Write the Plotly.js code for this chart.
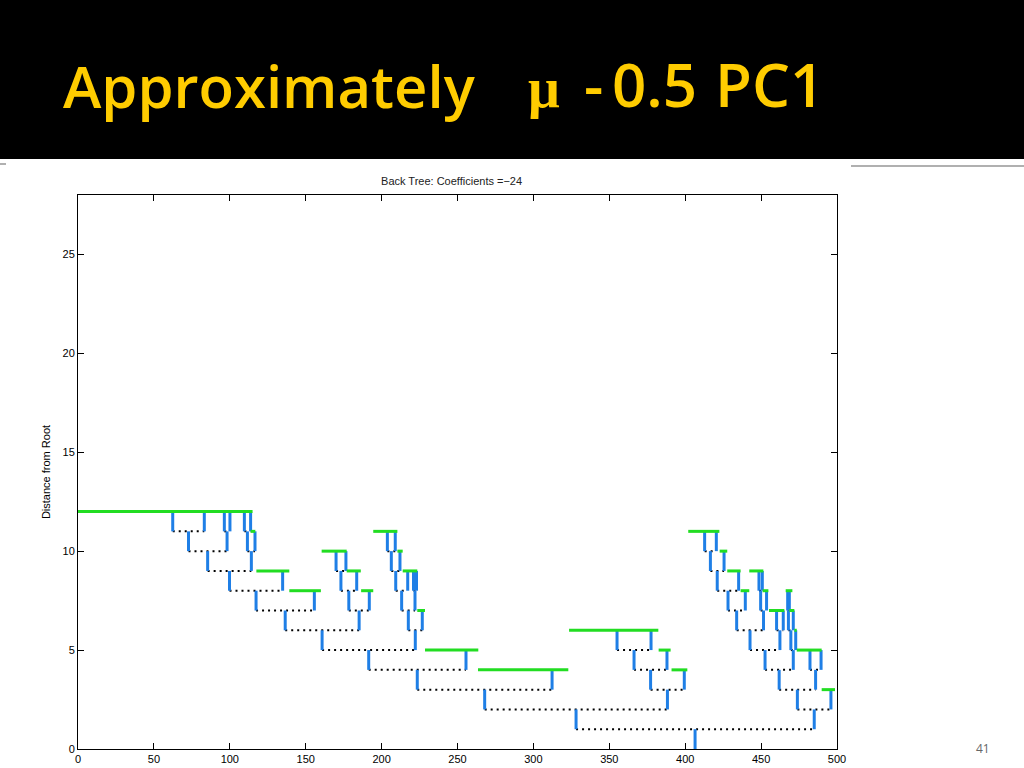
<!DOCTYPE html>
<html>
<head>
<meta charset="utf-8">
<script src="https://cdn.plot.ly/plotly-3.0.1.min.js"></script>
<style>
html,body{margin:0;padding:0;background:#fff;}
#chart{width:1024px;height:768px;}
</style>
</head>
<body>
<div id="chart"></div>
<script>
// ---- Data (x position, tree level) ----
// Blue branches: vertical from level (top-1) to level top at x
const branchX = [
  62.4, 83.2, 96.4, 100.1, 109.6, 113.7,
  72.8, 98.2, 111.6, 116.6, 203.8, 209.0, 412.8, 420.5,
  85.4, 114.2, 170.0, 176.5, 206.4, 212.1, 416.6, 425.6,
  99.8, 134.8, 173.2, 183.6, 209.3, 217.2, 221.0, 223.0, 421.1, 435.2, 448.6, 450.8,
  117.3, 155.7, 178.4, 191.9, 213.2, 222.0, 428.2, 439.6, 449.7, 453.6, 467.5, 468.6,
  136.5, 185.2, 217.6, 226.8, 433.9, 451.6, 460.2, 464.6, 468.0, 471.2,
  160.8, 222.2, 355.1, 377.5, 442.7, 462.4, 469.6, 472.8,
  191.5, 255.6, 366.3, 388.0, 452.6, 471.2, 482.2, 489.5,
  223.5, 312.3, 377.2, 399.4, 461.9, 485.9,
  267.9, 388.3, 473.9, 496.0,
  328.1, 485.0,
  406.5
];
const branchTop = [
  12, 12, 12, 12, 12, 12,
  11, 11, 11, 11, 11, 11, 11, 11,
  10, 10, 10, 10, 10, 10, 10, 10,
  9, 9, 9, 9, 9, 9, 9, 9, 9, 9, 9, 9,
  8, 8, 8, 8, 8, 8, 8, 8, 8, 8, 8, 8,
  7, 7, 7, 7, 7, 7, 7, 7, 7, 7,
  6, 6, 6, 6, 6, 6, 6, 6,
  5, 5, 5, 5, 5, 5, 5, 5,
  4, 4, 4, 4, 4, 4,
  3, 3, 3, 3,
  2, 2,
  1
];

// Black dotted joins between sibling branches
const joinStart = [
  62.4, 96.4, 109.6,
  72.8, 111.6, 203.8, 412.8,
  85.4, 170.0, 206.4, 416.6,
  99.8, 173.2, 209.3, 221.0, 421.1, 448.6,
  117.3, 178.4, 213.2, 428.2, 449.7, 467.5,
  136.5, 217.6, 433.9, 460.2, 468.0,
  160.8, 355.1, 442.7, 469.6,
  191.5, 366.3, 452.6, 482.2,
  223.5, 377.2, 461.9,
  267.9, 473.9,
  328.1
];
const joinEnd = [
  83.2, 100.1, 113.7,
  98.2, 116.6, 209.0, 420.5,
  114.2, 176.5, 212.1, 425.6,
  134.8, 183.6, 217.2, 223.0, 435.2, 450.8,
  155.7, 191.9, 222.0, 439.6, 453.6, 468.6,
  185.2, 226.8, 451.6, 464.6, 471.2,
  222.2, 377.5, 462.4, 472.8,
  255.6, 388.0, 471.2, 489.5,
  312.3, 399.4, 485.9,
  388.3, 496.0,
  485.0
];
const joinLevel = [
  11, 11, 11,
  10, 10, 10, 10,
  9, 9, 9, 9,
  8, 8, 8, 8, 8, 8,
  7, 7, 7, 7, 7, 7,
  6, 6, 6, 6, 6,
  5, 5, 5, 5,
  4, 4, 4, 4,
  3, 3, 3,
  2, 2,
  1
];

// Green leaf segments
const leafStart = [0, 113.7, 117.5, 139.2, 160.5, 177.0, 186.5, 194.5, 210.4, 213.9, 223.5, 228.6, 263.5, 323.5,
  382.5, 391.0, 402.0, 422.7, 427.7, 436.5, 442.2, 451.0, 455.2, 466.2, 468.6, 471.9, 473.5, 489.9];
const leafEnd = [115.0, 116.8, 139.2, 160.0, 177.0, 186.3, 194.5, 210.4, 213.9, 223.5, 228.6, 263.7, 323.0, 382.3,
  390.4, 401.4, 422.5, 427.7, 436.5, 442.2, 451.5, 454.8, 465.3, 470.6, 471.9, 473.5, 489.9, 498.7];
const leafLevel = [12, 11, 9, 8, 10, 9, 8, 11, 10, 9, 7, 5, 4, 6,
  5, 4, 11, 10, 9, 8, 9, 8, 7, 8, 7, 6, 5, 3];

const xTicks = [0, 50, 100, 150, 200, 250, 300, 350, 400, 450, 500];
const yTicks = [0, 5, 10, 15, 20, 25];

// ---- Build traces ----
function segs(x0s, x1s, y0s, y1s) {
  const x = [], y = [];
  for (let i = 0; i < x0s.length; i++) {
    x.push(x0s[i], x1s[i], null);
    y.push(y0s[i], y1s[i], null);
  }
  return {x, y};
}
const bj = segs(joinStart, joinEnd, joinLevel, joinLevel);
const bb = segs(branchX, branchX, branchTop.map(v => v - 1), branchTop);
const bl = segs(leafStart, leafEnd, leafLevel, leafLevel);

const traces = [
  {type: 'scatter', mode: 'lines', x: bj.x, y: bj.y, hoverinfo: 'skip',
   line: {color: '#000000', width: 2, dash: '2px,4px'}, showlegend: false},
  {type: 'scatter', mode: 'lines', x: bb.x, y: bb.y, hoverinfo: 'skip',
   line: {color: '#1f7fe6', width: 3}, showlegend: false},
  {type: 'scatter', mode: 'lines', x: bl.x, y: bl.y, hoverinfo: 'skip',
   line: {color: '#22dd22', width: 3}, showlegend: false}
];

// pixel -> paper helpers for slide decorations
const L = 78, R = 187, T = 195, B = 19, W = 1024, H = 768;
const pw = W - L - R, ph = H - T - B;
const px = v => (v - L) / pw;
const py = v => (H - B - v) / ph;

const headFont = {family: 'Open Sans, sans-serif', size: 60, color: '#ffcc00', weight: 600};
const headFontA = {family: 'Open Sans, sans-serif', size: 58, color: '#ffcc00', weight: 600};

const layout = {
  width: W, height: H,
  margin: {l: L, r: R, t: T, b: B, pad: 0},
  paper_bgcolor: '#ffffff', plot_bgcolor: '#ffffff',
  showlegend: false,
  title: {text: 'Back Tree: Coefficients =\u221224', x: 0.441, xanchor: 'center', y: 1 - 181 / H, yanchor: 'middle',
          font: {family: 'Liberation Sans, Arial, sans-serif', size: 11, color: '#222'}},
  xaxis: {range: [0, 500], tickvals: xTicks, ticktext: xTicks.map(String), ticks: 'inside', ticklen: 6,
          tickcolor: '#000', showline: true, linecolor: '#000', linewidth: 1, mirror: 'ticks',
          showgrid: false, zeroline: false, automargin: false,
          tickfont: {family: 'Liberation Sans, Arial, sans-serif', size: 11, color: '#000'}},
  yaxis: {range: [0, 28], tickvals: yTicks, ticktext: yTicks.map(String), ticks: 'inside', ticklen: 6,
          tickcolor: '#000', showline: true, linecolor: '#000', linewidth: 1, mirror: 'ticks',
          showgrid: false, zeroline: false, automargin: false,
          title: {text: 'Distance from Root', standoff: 9,
                  font: {family: 'Liberation Sans, Arial, sans-serif', size: 11, color: '#000'}},
          tickfont: {family: 'Liberation Sans, Arial, sans-serif', size: 11, color: '#000'}},
  shapes: [
    {type: 'rect', xref: 'paper', yref: 'paper', x0: px(0), x1: px(W), y0: py(159), y1: py(0),
     fillcolor: '#000000', line: {width: 0}, layer: 'below'},
    {type: 'line', xref: 'paper', yref: 'paper', x0: px(851), x1: px(W), y0: py(166), y1: py(166),
     line: {color: '#b0b0b0', width: 2}},
    {type: 'line', xref: 'paper', yref: 'paper', x0: px(0), x1: px(6), y0: py(164), y1: py(164),
     line: {color: '#b0b0b0', width: 2}}
  ],
  annotations: [
    {xref: 'paper', yref: 'paper', x: px(61), y: py(85), xanchor: 'left', yanchor: 'middle', showarrow: false,
     text: 'Approximately', font: headFontA},
    {xref: 'paper', yref: 'paper', x: px(544), y: py(88), xanchor: 'center', yanchor: 'middle', showarrow: false,
     text: '\u03bc', font: {family: 'Liberation Serif, serif', size: 56, color: '#ffcc00', weight: 600}},
    {xref: 'paper', yref: 'paper', x: px(582), y: py(84), xanchor: 'left', yanchor: 'middle', showarrow: false,
     text: '-', font: headFont},
    {xref: 'paper', yref: 'paper', x: px(610), y: py(84), xanchor: 'left', yanchor: 'middle', showarrow: false,
     text: '0.5', font: headFont},
    {xref: 'paper', yref: 'paper', x: px(713), y: py(84), xanchor: 'left', yanchor: 'middle', showarrow: false,
     text: 'PC1', font: headFont},
    {xref: 'paper', yref: 'paper', x: px(983), y: py(748), xanchor: 'center', yanchor: 'middle', showarrow: false,
     text: '41', font: {family: 'Open Sans, sans-serif', size: 12, color: '#666'}}
  ]
};

Plotly.newPlot('chart', traces, layout, {staticPlot: true, displayModeBar: false});
</script>
</body>
</html>
